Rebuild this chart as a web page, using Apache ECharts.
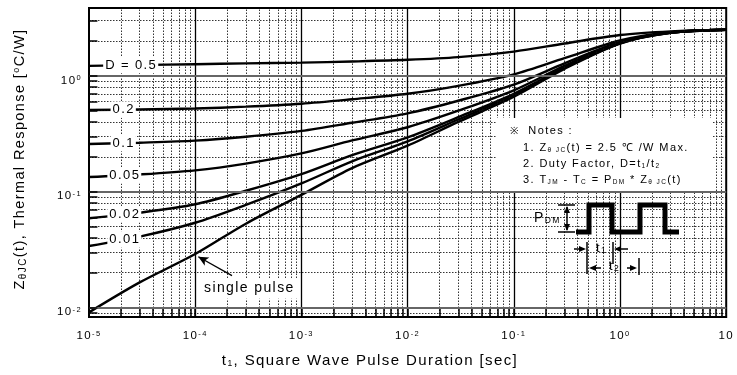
<!DOCTYPE html>
<html>
<head>
<meta charset="utf-8">
<script src="https://cdn.jsdelivr.net/npm/echarts@6/dist/echarts.min.js"></script>
<style>
  html, body { margin: 0; padding: 0; background: #fff; }
  #chart { width: 737px; height: 375px; }
</style>
</head>
<body>
<div id="chart"></div>
<script>
// Transient thermal impedance vs. pulse width, one curve per duty factor
const pulseTimes = [1e-5, 3e-5, 1e-4, 3e-4, 1e-3, 3e-3, 1e-2, 3e-2, 1e-1, 3e-1, 1, 3, 10];
const zSingle = [0.0091, 0.0165, 0.029, 0.053, 0.094, 0.16, 0.25, 0.40, 0.66, 1.15, 1.9, 2.35, 2.5];
const zD001  = [0.034, 0.041, 0.054, 0.077, 0.118, 0.183, 0.272, 0.42, 0.68, 1.17, 1.91, 2.35, 2.5];
const zD002  = [0.059, 0.066, 0.078, 0.102, 0.142, 0.207, 0.295, 0.44, 0.70, 1.18, 1.92, 2.36, 2.5];
const zD005  = [0.134, 0.141, 0.153, 0.175, 0.214, 0.277, 0.36, 0.50, 0.75, 1.22, 1.93, 2.36, 2.5];
const zD01   = [0.258, 0.265, 0.276, 0.298, 0.335, 0.394, 0.475, 0.61, 0.84, 1.28, 1.96, 2.37, 2.5];
const zD02   = [0.507, 0.513, 0.523, 0.542, 0.575, 0.628, 0.70, 0.82, 1.03, 1.42, 2.02, 2.38, 2.5];
const zD05   = [1.22, 1.24, 1.26, 1.28, 1.30, 1.33, 1.375, 1.45, 1.62, 1.90, 2.25, 2.42, 2.5];

const dutyNames = ['D = 0.5', '0.2', '0.1', '0.05', '0.02', '0.01'];
const dutyLabelTimes = [2.47e-5, 2.1e-5, 2.1e-5, 2.15e-5, 2.15e-5, 2.15e-5];

const xTickExponents = [-5, -4, -3, -2, -1, 0, 1];
const yTickExponents = [-2, -1, 0];

const xMin = 1e-5, xMax = 10;
const yMin = 0.0083, yMax = 3.85;

const FONT = 'Liberation Sans, Arial, sans-serif';
const LETTER_SPACING = 1.4;

// wide-tracked lettering: measure with the extra tracking so layout stays consistent
const measureCtx = document.createElement('canvas').getContext('2d');
if (echarts.setPlatformAPI) {
  echarts.setPlatformAPI({
    measureText(text, font) {
      measureCtx.font = font || '12px sans-serif';
      const m = measureCtx.measureText(text);
      return {
        width: m.width + LETTER_SPACING * (text ? text.length : 0),
        actualBoundingBoxAscent: m.actualBoundingBoxAscent,
        actualBoundingBoxDescent: m.actualBoundingBoxDescent
      };
    }
  });
}

// value on a curve at time t (log-log interpolation), used to seat the curve labels
function valueAt(ys, t) {
  for (let i = 0; i < pulseTimes.length - 1; i++) {
    if (t >= pulseTimes[i] && t <= pulseTimes[i + 1]) {
      const f = (Math.log10(t) - Math.log10(pulseTimes[i])) /
                (Math.log10(pulseTimes[i + 1]) - Math.log10(pulseTimes[i]));
      return Math.pow(10, Math.log10(ys[i]) + f * (Math.log10(ys[i + 1]) - Math.log10(ys[i])));
    }
  }
  return ys[ys.length - 1];
}
const pairs = ys => pulseTimes.map((t, i) => [t, ys[i]]);

// grid positions: decades and the 2..9 subdivisions
const xMajor = [], xMinor = [], yMajor = [], yMinor = [];
xTickExponents.forEach(e => {
  const d = Math.pow(10, e);
  if (d > xMin && d < xMax) xMajor.push(d);
  if (e < 1) for (let m = 2; m <= 9; m++) xMinor.push(m * d);
});
[-3].concat(yTickExponents).forEach(e => {
  const d = Math.pow(10, e);
  if (d > yMin && d < yMax) yMajor.push(d);
  for (let m = 2; m <= 9; m++) {
    const v = m * d;
    if (v > yMin && v < yMax) yMinor.push(v);
  }
});

const minorStyle = { color: '#111', width: 1, type: [1.5, 1.5], opacity: 0.85 };
const majorXStyle = { color: '#000', width: 1.3, type: 'solid' };
const majorYStyle = { color: '#666', width: 2, type: 'solid' };
const tickStyle = { color: '#000', width: 1.5, type: 'solid' };
const vLine = (v, style) => [{ coord: [v, yMin], lineStyle: style }, { coord: [v, yMax] }];
const hLine = (v, style) => [{ coord: [xMin, v], lineStyle: style }, { coord: [xMax, v] }];

const gridLines = [];
xMinor.forEach(v => gridLines.push(vLine(v, minorStyle)));
yMinor.forEach(v => gridLines.push(hLine(v, minorStyle)));
xMajor.forEach(v => gridLines.push(vLine(v, majorXStyle)));
yMajor.forEach(v => gridLines.push(hLine(v, majorYStyle)));
// short inner ticks along the left and bottom frame
xMinor.concat(xMajor).forEach(v => gridLines.push([{ coord: [v, yMin], lineStyle: tickStyle }, { coord: [v, yMin * 1.17] }]));
yMinor.concat(yMajor).forEach(v => gridLines.push([{ coord: [xMin, v], lineStyle: tickStyle }, { coord: [xMin * 1.2, v] }]));

function expLabel(value) {
  const e = Math.round(Math.log10(value));
  if (Math.abs(Math.log10(value) - e) > 1e-6) return '';
  if (e === 1) return '10';
  return '10{sup|' + e + '}';
}
const tickRich = { sup: { fontSize: 7.5, fontFamily: FONT, color: '#000', verticalAlign: 'top', padding: [0, 0, 0, 0] } };

const curveSets = [zD05, zD02, zD01, zD005, zD002, zD001];
const curveLabel = {
  show: true, position: 'inside', color: '#000', fontSize: 13, fontFamily: FONT,
  backgroundColor: '#fff', padding: [1, 1, 1, 2]
};

const series = [{
  type: 'line', name: 'grid', data: [[xMin, 1]], symbol: 'none', silent: true, z: 1,
  lineStyle: { width: 0 },
  markLine: { silent: true, symbol: ['none', 'none'], label: { show: false }, animation: false, data: gridLines }
}];

curveSets.forEach((ys, i) => {
  series.push({
    type: 'line', name: dutyNames[i], data: pairs(ys), smooth: 0.3, symbol: 'none', z: 3,
    lineStyle: { color: '#000', width: 2.4 },
    markPoint: {
      silent: true, symbol: 'rect', symbolSize: 1, itemStyle: { color: 'rgba(0,0,0,0)' },
      label: Object.assign({ formatter: dutyNames[i] }, curveLabel),
      data: [{ coord: [dutyLabelTimes[i], valueAt(ys, dutyLabelTimes[i])] }]
    }
  });
});

series.push({
  type: 'line', name: 'single pulse', data: pairs(zSingle), smooth: 0.3, symbol: 'none', z: 3,
  lineStyle: { color: '#000', width: 2.4 },
  markPoint: {
    silent: true, symbol: 'rect', symbolSize: 1, itemStyle: { color: 'rgba(0,0,0,0)' },
    label: Object.assign({}, curveLabel, { formatter: 'single pulse', fontSize: 14, padding: [3, 3, 2, 4] }),
    data: [{ coord: [3.2e-4, 0.0146] }]
  },
  markLine: {
    silent: true, label: { show: false }, symbol: ['none', 'arrow'], symbolSize: [7, 10],
    lineStyle: { color: '#000', width: 1.3, type: 'solid' },
    data: [[{ coord: [2.22e-4, 0.0189] }, { coord: [1.07e-4, 0.0275] }]]
  }
});

const noteRich = {
  sub: { fontSize: 6.5, fontFamily: FONT, color: '#000', padding: [5, 0, 0, 0] },
  g: { fontSize: 10, color: '#777', fontFamily: FONT }
};
const noteText = (x, y, text) => ({
  type: 'text', z: 11, x: x, y: y,
  style: { text: text, fontSize: 11, fontFamily: FONT, fill: '#000', verticalAlign: 'middle', rich: noteRich }
});
const subRich = { sub: { fontSize: 8.5, fontFamily: FONT, color: '#000', padding: [6, 0, 0, 0] } };
const seg = (x1, y1, x2, y2) => ({ type: 'line', z: 11, shape: { x1, y1, x2, y2 }, style: { stroke: '#000', lineWidth: 1.5 } });
const head = pts => ({ type: 'polygon', z: 11, shape: { points: pts }, style: { fill: '#000' } });

const option = {
  animation: false,
  backgroundColor: '#fff',
  grid: { left: 89, right: 6, top: 8, bottom: 58, show: true, borderColor: '#000', borderWidth: 2, backgroundColor: 'transparent' },
  xAxis: {
    type: 'log', logBase: 10, min: xMin, max: xMax,
    axisLine: { show: false }, axisTick: { show: false }, splitLine: { show: false },
    axisLabel: { formatter: expLabel, margin: 12, color: '#000', fontSize: 11.5, fontFamily: FONT, rich: tickRich, showMinLabel: true, showMaxLabel: true }
  },
  yAxis: {
    type: 'log', logBase: 10, min: yMin, max: yMax,
    axisLine: { show: false }, axisTick: { show: false }, splitLine: { show: false },
    axisLabel: { formatter: expLabel, margin: 7, color: '#000', fontSize: 11.5, fontFamily: FONT, rich: tickRich, padding: [9, 0, 0, 0], showMinLabel: false, showMaxLabel: false }
  },
  series: series,
  graphic: [
    // axis titles
    { type: 'text', x: 370, y: 361, style: { text: 't{sub|1}, Square Wave Pulse Duration [sec]', fontSize: 15, fontFamily: FONT, fill: '#000', align: 'center', verticalAlign: 'middle', rich: subRich } },
    { type: 'text', x: 20, y: 159, rotation: Math.PI / 2, style: { text: 'Z{sub|θJC}(t), Thermal Response [{sup|o}C/W]', fontSize: 14.5, fontFamily: FONT, fill: '#000', align: 'center', verticalAlign: 'middle',
      rich: { sub: { fontSize: 10, fontFamily: FONT, color: '#000', padding: [7, 0, 0, 0] }, sup: { fontSize: 9, fontFamily: FONT, color: '#000', padding: [0, 0, 7, 0] } } } },
    // notes panel
    { type: 'rect', z: 10, shape: { x: 496, y: 118, width: 217, height: 73 }, style: { fill: '#fff' } },
    noteText(510, 131, '{g|※}  Notes :'),
    noteText(523, 148, '1. Z{sub|θ JC}(t) = 2.5 ℃ /W Max.'),
    noteText(523, 164, '2. Duty Factor, D=t{sub|1}/t{sub|2}'),
    noteText(523, 180, '3. T{sub|JM} - T{sub|C} = P{sub|DM} * Z{sub|θ JC}(t)'),
    // square-wave pulse train sketch
    { type: 'polyline', z: 11, shape: { points: [[576, 232], [589, 232], [589, 205], [612, 205], [612, 232], [640, 232], [640, 205], [665, 205], [665, 232], [679, 232]] },
      style: { stroke: '#000', lineWidth: 5, fill: null, lineJoin: 'miter' } },
    seg(558, 205, 575, 205), seg(558, 232, 575, 232), seg(567, 207, 567, 230),
    head([[567, 206], [564, 213], [570, 213]]), head([[567, 231], [564, 224], [570, 224]]),
    { type: 'text', z: 11, x: 534, y: 218, style: { text: 'P{sub|DM}', fontSize: 14, fontFamily: FONT, fill: '#000', verticalAlign: 'middle', rich: subRich } },
    // t1 / t2 dimension marks
    seg(587, 242, 587, 274), seg(613, 242, 613, 264), seg(639, 258, 639, 275),
    seg(574, 249, 584, 249), head([[586, 249], [579, 246], [579, 252]]),
    seg(616, 249, 628, 249), head([[614, 249], [621, 246], [621, 252]]),
    { type: 'text', z: 11, x: 596, y: 248, style: { text: 't{sub|1}', fontSize: 13, fontFamily: FONT, fill: '#000', verticalAlign: 'middle', rich: subRich } },
    seg(592, 268, 601, 268), head([[589, 268], [596, 265], [596, 271]]),
    seg(627, 268, 634, 268), head([[637, 268], [630, 265], [630, 271]]),
    { type: 'text', z: 11, x: 609, y: 266, style: { text: 't{sub|2}', fontSize: 13, fontFamily: FONT, fill: '#000', verticalAlign: 'middle', rich: subRich } }
  ]
};

const chart = echarts.init(document.getElementById('chart'), null, { renderer: 'canvas' });
try {
  const layer = chart.getZr().painter.getLayer(0);
  if (layer && layer.ctx) layer.ctx.letterSpacing = LETTER_SPACING + 'px';
} catch (err) { /* tracking is cosmetic only */ }
chart.setOption(option);
</script>
</body>
</html>
